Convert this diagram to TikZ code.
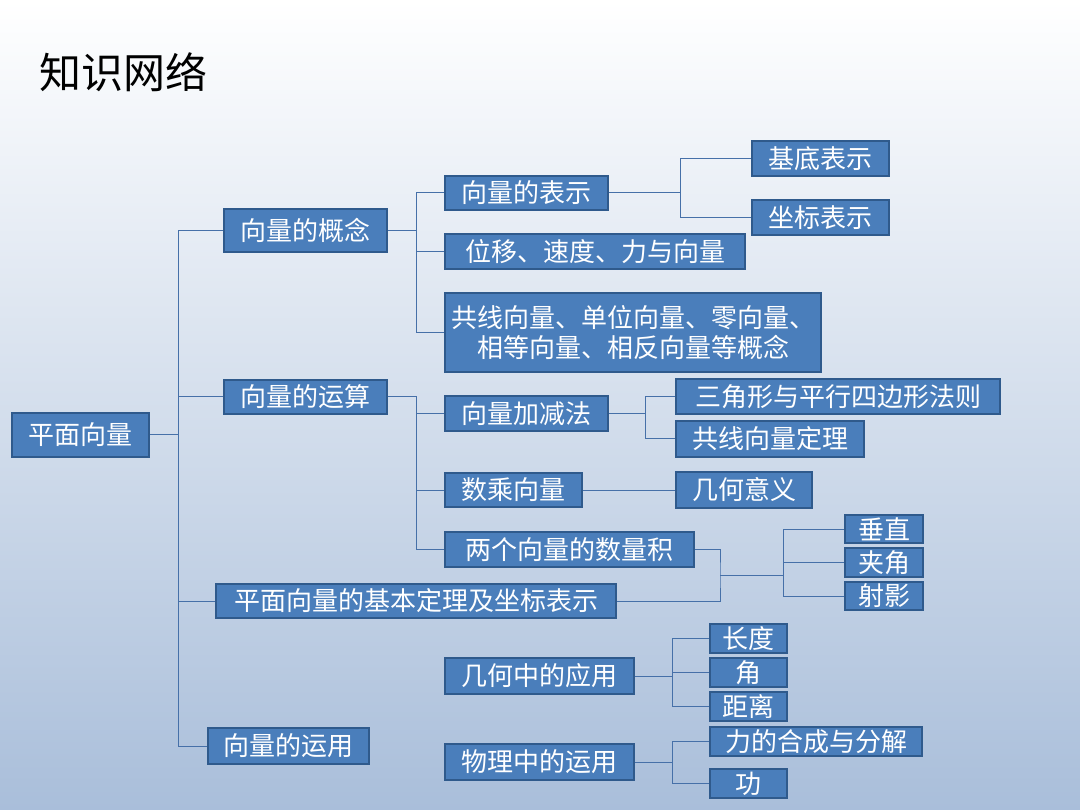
\documentclass[tikz,border=0pt]{standalone}
\usepackage{fontspec}
\setmainfont{Noto Sans CJK SC}
\usetikzlibrary{positioning}
\definecolor{boxblue}{HTML}{4A7EBB}
\definecolor{boxline}{HTML}{2F5A8C}
\definecolor{linkblue}{HTML}{4670A8}
\definecolor{bgtop}{HTML}{FFFFFF}
\definecolor{bgbot}{HTML}{A9BEDA}
\tikzset{
  topic/.style={draw=boxline,line width=1.5pt,fill=boxblue,text=white,inner sep=0pt,
    font=\fontsize{26}{30}\selectfont,align=center},
  link/.style={draw=linkblue,line width=1pt}
}
\newcommand{\tbox}[6]{% name, x1, y1, x2, y2, text
  \node[topic,minimum width=#4pt-#2pt,minimum height=#5pt-#3pt] (#1) at ({(#2+#4)/2},{(#3+#5)/2}) {#6};}
\begin{document}
\begin{tikzpicture}[x=1pt,y=-1pt]
  \shade[top color=bgtop,bottom color=bgbot] (0,0) rectangle (1080,810);
  \useasboundingbox (0,0) rectangle (1080,810);
  \node[anchor=west,font=\fontsize{42}{48}\selectfont] (title) at (36,72) {知识网络};
  % level 0 and 1
  \tbox{root}{12}{413}{149}{457}{平面向量}
  \tbox{gainian}{224}{209}{387}{252}{向量的概念}
  \tbox{yunsuan}{224}{380}{387}{414}{向量的运算}
  \tbox{dingli}{216}{584}{616}{618}{平面向量的基本定理及坐标表示}
  \tbox{yunyong}{208}{728}{369}{764}{向量的运用}
  % level 2
  \tbox{biaoshi}{445}{176}{608}{210}{向量的表示}
  \tbox{weiyi}{445}{234}{745}{269}{位移、速度、力与向量}
  \tbox{gongxian}{445}{293}{821}{372}{共线向量、单位向量、零向量、\\相等向量、相反向量等概念}
  \tbox{jiajian}{445}{396}{608}{431}{向量加减法}
  \tbox{shucheng}{445}{473}{582}{507}{数乘向量}
  \tbox{shuliangji}{445}{532}{694}{567}{两个向量的数量积}
  \tbox{jihe}{445}{658}{634}{694}{几何中的应用}
  \tbox{wuli}{445}{744}{634}{780}{物理中的运用}
  % level 3
  \tbox{jidi}{752}{141}{889}{176}{基底表示}
  \tbox{zuobiao}{752}{200}{889}{235}{坐标表示}
  \tbox{sanjiao}{676}{379}{1000}{414}{三角形与平行四边形法则}
  \tbox{gxdl}{676}{421}{864}{457}{共线向量定理}
  \tbox{yiyi}{676}{472}{812}{508}{几何意义}
  \tbox{chuizhi}{845}{515}{923}{543}{垂直}
  \tbox{jiajiao}{845}{548}{923}{577}{夹角}
  \tbox{sheying}{845}{582}{923}{610}{射影}
  \tbox{changdu}{710}{624}{787}{653}{长度}
  \tbox{jiao}{710}{658}{787}{687}{角}
  \tbox{juli}{710}{692}{787}{721}{距离}
  \tbox{hecheng}{710}{727}{922}{756}{力的合成与分解}
  \tbox{gong}{710}{769}{787}{798}{功}
  % connectors
  \coordinate (r) at (178,0);
  \foreach \n in {gainian,yunsuan,dingli,yunyong}
    \draw[link] (root.east) -| (r |- \n.west) -- (\n.west);
  \coordinate (g) at (416,0);
  \foreach \n in {biaoshi,weiyi,gongxian}
    \draw[link] (gainian.east) -| (g |- \n.west) -- (\n.west);
  \foreach \n in {jiajian,shucheng,shuliangji}
    \draw[link] (yunsuan.east) -| (g |- \n.west) -- (\n.west);
  \coordinate (b) at (680,0);
  \foreach \n in {jidi,zuobiao}
    \draw[link] (biaoshi.east) -| (b |- \n.west) -- (\n.west);
  \coordinate (j) at (645,0);
  \foreach \n in {sanjiao,gxdl}
    \draw[link] (jiajian.east) -| (j |- \n.west) -- (\n.west);
  \draw[link] (shucheng) -- (yiyi);
  \coordinate (smid) at (720,575);
  \draw[link] (shuliangji.east) -| (smid) |- (dingli.east);
  \coordinate (t) at (783,0);
  \foreach \n in {chuizhi,jiajiao,sheying}
    \draw[link] (smid) -| (t |- \n.west) -- (\n.west);
  \coordinate (k) at (672,0);
  \foreach \n in {changdu,jiao,juli}
    \draw[link] (jihe.east) -| (k |- \n.west) -- (\n.west);
  \foreach \n in {hecheng,gong}
    \draw[link] (wuli.east) -| (k |- \n.west) -- (\n.west);
\end{tikzpicture}
\end{document}
